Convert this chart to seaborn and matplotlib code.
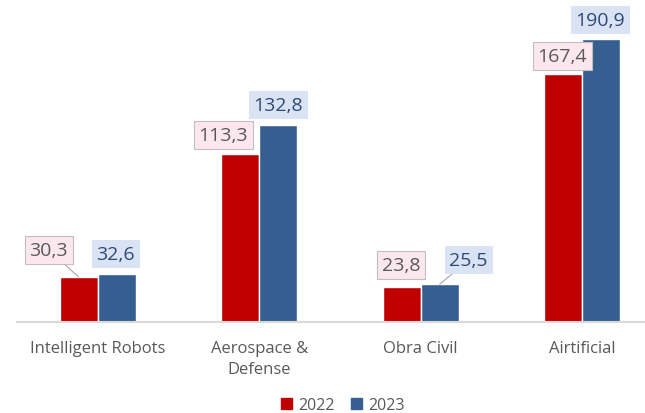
import pandas as pd
import seaborn as sns
import matplotlib.pyplot as plt
from matplotlib.patches import Patch

# data
categories = ["Intelligent Robots", "Aerospace &\nDefense", "Obra Civil", "Airtificial"]
years = ["2022", "2023"]
values_2022 = [30.3, 113.3, 23.8, 167.4]
values_2023 = [32.6, 132.8, 25.5, 190.9]

# label placement (pixels from bar top centre: right, up)
offsets_2022 = [(-30, 27), (-17, 19), (-1, 22), (-1, 18)]
offsets_2023 = [(-1, 20), (0, 20), (29, 24), (-1, 19)]
leader_2022 = [True, False, False, False]
leader_2023 = [False, False, True, False]

RED = "#c00000"
BLUE = "#365f91"
GRAY = "#595959"

df = pd.DataFrame({
    "category": categories * 2,
    "year": [years[0]] * 4 + [years[1]] * 4,
    "value": values_2022 + values_2023,
})

sns.set_style("white")
plt.rcParams["font.family"] = ["Open Sans", "DejaVu Sans"]

fig = plt.figure(figsize=(6.45, 4.14), dpi=100)
ax = fig.add_axes([17 / 645, 91 / 414, 646 / 645, 296.4 / 414])

sns.barplot(data=df, x="category", y="value", hue="year",
            palette=[RED, BLUE], width=0.47, saturation=1,
            legend=False, ax=ax)

ax.set_xlim(-0.5, 3.5)
ax.set_ylim(0, 200)
ax.set_xlabel("")
ax.set_ylabel("")
ax.set_yticks([])
for s in ["top", "left", "right"]:
    ax.spines[s].set_visible(False)
ax.spines["bottom"].set_color("#d9d9d9")
ax.spines["bottom"].set_linewidth(1.5)
ax.tick_params(axis="x", length=0, pad=13, labelsize=12, labelcolor=GRAY)
for lbl in ax.get_xticklabels():
    lbl.set_linespacing(1.45)

px = 72 / 100  # pixel -> points

styles = [
    dict(offsets=offsets_2022, leader=leader_2022, vals=values_2022, color=GRAY,
         bbox=dict(boxstyle="square,pad=0.25", fc="#fde7ef", ec="#bfbfbf", lw=0.8)),
    dict(offsets=offsets_2023, leader=leader_2023, vals=values_2023, color="#2e4a78",
         bbox=dict(boxstyle="square,pad=0.25", fc="#dae3f3", ec="none")),
]

for cont, st in zip(ax.containers, styles):
    for bar, val, (dx, dy), lead in zip(cont, st["vals"], st["offsets"], st["leader"]):
        x = bar.get_x() + bar.get_width() / 2
        y = bar.get_height()
        arrow = dict(arrowstyle="-", color="#a6a6a6", lw=0.8, shrinkA=0, shrinkB=0) if lead else None
        ax.annotate(f"{val:.1f}".replace(".", ","), xy=(x, y),
                    xytext=(dx * px, dy * px), textcoords="offset points",
                    ha="center", va="center", fontsize=14, color=st["color"],
                    bbox=st["bbox"], arrowprops=arrow, annotation_clip=False)

handles = [Patch(color=RED, label="2022"), Patch(color=BLUE, label="2023")]
fig.legend(handles=handles, loc="center", bbox_to_anchor=(0.532, 0.02), ncol=2,
           frameon=False, fontsize=11.5, labelcolor=GRAY, handlelength=0.7,
           handleheight=0.7, handletextpad=0.4, columnspacing=1.0)

fig.savefig("out.png", dpi=100)
